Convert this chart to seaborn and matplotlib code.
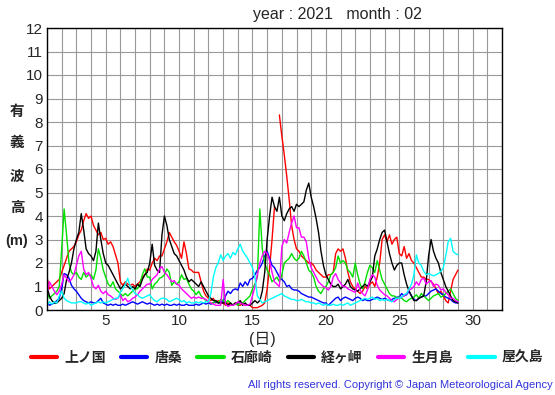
import numpy as np
import pandas as pd
import matplotlib
matplotlib.use("Agg")
import matplotlib.pyplot as plt
from matplotlib.lines import Line2D
import seaborn as sns

nan = np.nan
# significant wave height (m), Feb 2021, 4-hourly (6 values per day), day 1.00 .. 29.00
stations = ["上ノ国", "唐桑", "石廊崎", "経ヶ岬", "生月島", "屋久島"]
colors = ["#ff0000", "#0000ff", "#00e000", "#000000", "#ff00ff", "#00ffff"]

kaminokuni = [
    1.4, 0.9, 1.0, 1.1, 1.2, 1.3,
    1.6, 1.9, 2.2, 2.5, 2.6, 2.7,
    2.9, 3.2, 3.4, 3.8, 4.1, 3.9,
    4.0, 3.6, 3.4, 3.2, 3.3, 3.0,
    3.05, 2.8, 2.9, 2.7, 2.35, 2.0,
    1.2, 1.05, 1.2, 1.1, 1.05, 1.1,
    1.0, 1.1, 1.2, 1.4, 1.5, 1.75,
    1.7, 2.0, 2.2, 2.1, 2.3, 2.3,
    2.6, 2.9, 3.3, 3.1, 2.9, 2.75,
    2.5, 2.2, 2.9, 2.4, 1.75, 1.7,
    1.6, 1.6, 1.6, 1.2, 0.8, 0.6,
    0.5, 0.4, 0.5, 0.3, 0.4, 0.3,
    0.3, 0.2, 0.3, 0.2, 0.2, 0.3,
    0.2, 0.2, 0.3, 0.2, 0.2, 0.2,
    0.1, 0.1, 0.1, 0.15, 0.2, 0.3,
    0.9, 1.8, 3.0, 4.4, nan, 8.3,
    7.4, 6.6, 5.7, 4.7, 3.6, 3.0,
    2.6, 2.5, 2.3, 2.2, 2.1, 2.0,
    2.0, 1.9, 1.7, 1.6, 1.5, 1.4,
    1.4, 1.5, 1.5, 1.6, 2.4, 2.6,
    2.5, 2.6, 2.2, 1.6, 1.2, 1.0,
    0.9, 0.8, 0.7, 0.8, 1.0, 0.9,
    1.1, 1.2, 1.0, 1.4, 2.0, 3.0,
    3.2, 2.9, 3.2, 2.8, 3.0, 3.1,
    2.4, 2.3, 2.7, 2.2, 2.4, 2.1,
    2.0, 1.8, 1.6, 1.4, 1.4, 1.3,
    1.3, 1.2, 1.1, 0.9, 0.7, 0.8,
    0.6, 0.4, 0.3, 0.8, 1.3, 1.5,
    1.7,
]

karakuwa = [
    0.35, 0.2, 0.25, 0.3, 0.4, 0.5,
    0.9, 1.55, 1.5, 1.35, 1.05, 0.9,
    0.8, 0.65, 0.5, 0.4, 0.35, 0.3,
    0.35, 0.3, 0.3, 0.4, 0.5, 0.3,
    0.25, 0.2, 0.25, 0.2, 0.25, 0.2,
    0.2, 0.25, 0.2, 0.25, 0.3, 0.35,
    0.3, 0.25, 0.3, 0.35, 0.3, 0.25,
    0.3, 0.25, 0.2, 0.25, 0.2, 0.25,
    0.2, 0.25, 0.2, 0.2, 0.25, 0.2,
    0.25, 0.2, 0.2, 0.25, 0.2, 0.2,
    0.2, 0.25, 0.2, 0.25, 0.3, 0.25,
    0.3, 0.25, 0.3, 0.35, 0.3, 0.35,
    0.35, 0.6, 0.8, 0.7, 0.85, 0.9,
    0.85, 1.15, 1.0, 1.2, 1.05, 1.3,
    1.35, 1.5, 1.7, 1.8, 2.0, 2.3,
    2.5, 2.2, 1.9, 1.8, 1.6, 1.4,
    1.3, 1.2, 1.0, 1.05, 0.9, 0.85,
    0.85, 0.8, 0.7, 0.65, 0.6, 0.55,
    0.55, 0.5, 0.45, 0.4, 0.35, 0.3,
    0.3, 0.2, 0.3, 0.4, 0.5, 0.55,
    0.4, 0.5, 0.55, 0.5, 0.45, 0.4,
    0.5, 0.55, 0.5, 0.4, 0.45, 0.4,
    0.4, 0.45, 0.5, 0.55, 0.5, 0.45,
    0.5, 0.45, 0.4, 0.45, 0.5, 0.55,
    0.55, 0.7, 0.6, 0.65, 0.8, 0.6,
    0.45, 0.4, 0.5, 0.55, 0.6, 0.6,
    0.7, 0.8, 0.85, 0.9, 0.8, 0.7,
    0.65, 0.55, 0.5, 0.45, 0.35, 0.3,
    0.3,
]

irozaki = [
    0.8, 0.5, 0.6, 0.7, 0.8, 1.0,
    2.6, 4.3, 3.2, 2.0, 1.6, 1.5,
    1.6, 1.4, 1.3, 1.6, 1.4, 1.5,
    1.5, 1.3, 1.7, 2.6, 2.2, 1.7,
    1.4, 1.1, 1.0, 1.2, 0.9, 0.8,
    0.7, 0.6, 0.7, 0.6, 0.7, 0.8,
    0.9, 0.9, 1.1, 1.5, 1.75, 1.4,
    1.4, 0.9, 1.1, 1.2, 1.35, 1.4,
    1.5, 1.75, 1.6, 1.05, 1.2, 1.1,
    1.2, 1.5, 1.3, 1.35, 1.1, 0.9,
    0.8, 0.65, 0.8, 0.6, 0.5, 0.4,
    0.35, 0.3, 0.3, 0.4, 0.3, 0.45,
    0.4, 0.3, 0.4, 0.3, 0.2, 0.3,
    0.2, 0.3, 0.3, 0.4, 0.5, 0.6,
    0.9, 1.1, 1.4, 4.3, 2.6, 2.0,
    1.7, 1.5, 1.2, 1.3, 1.4, 1.2,
    1.5, 2.0, 2.1, 2.2, 2.4, 2.2,
    2.1, 2.2, 2.5, 2.3, 2.0, 1.7,
    1.6, 1.4, 1.0, 0.8, 0.7, 0.9,
    1.0, 1.2, 1.5, 1.6, 1.8, 2.3,
    2.0, 2.1, 2.0, 1.7, 1.6, 1.4,
    2.0, 1.5, 1.1, 0.9, 1.2, 1.6,
    1.9, 1.8, 1.6, 2.1, 1.7, 1.3,
    1.1, 0.9, 0.7, 0.6, 0.6, 0.5,
    0.55, 0.5, 0.4, 0.35, 0.45, 0.5,
    0.55, 0.65, 0.5, 0.7, 0.6, 0.5,
    0.4, 0.5, 0.6, 0.65, 0.7, 0.55,
    0.6, 0.7, 0.8, 0.9, 0.7, 0.5,
    0.4,
]

kyogamisaki = [
    1.0, 0.6, 0.4, 0.3, 0.3, 0.4,
    0.5, 0.7, 1.3, 1.6, 2.0, 2.6,
    3.0, 3.3, 4.1, 3.4, 2.6, 2.4,
    2.3, 2.1, 2.5, 3.7, 3.0, 2.4,
    2.0, 1.9, 1.7, 1.5, 1.3, 1.1,
    0.9, 1.0, 1.1, 1.0, 0.9, 1.0,
    0.9, 1.1, 1.0, 1.3, 1.5, 1.6,
    2.0, 2.8, 1.9, 1.7, 1.6, 3.2,
    4.0, 3.6, 3.0, 2.7, 2.4, 2.3,
    2.1, 1.9, 1.7, 1.4, 1.2, 1.3,
    1.2, 1.1, 1.0, 1.2, 1.0, 0.8,
    0.6, 0.5, 0.4, 0.4, 0.3, 0.3,
    0.3, 0.3, 0.2, 0.3, 0.2, 0.3,
    0.3, 0.4, 0.2, 0.3, 0.2, 0.2,
    0.3, 0.4, 0.3, 0.4, 0.8, 1.6,
    3.0, 4.0, 4.8, 4.4, 4.2, 4.8,
    4.0, 3.8, 4.1, 4.3, 4.4, 4.2,
    4.5, 4.4, 4.5, 4.6, 5.1, 5.4,
    4.8, 4.4, 3.9, 3.3, 2.5, 1.9,
    1.5, 1.3, 1.1, 1.0, 1.0, 1.1,
    0.9, 1.0, 1.1, 1.3, 1.0, 0.9,
    0.85, 0.8, 0.9, 1.0, 1.1, 1.0,
    1.2, 1.4, 2.3, 2.6, 3.0, 3.3,
    3.4, 2.9, 2.4, 2.0, 1.7, 1.9,
    2.0, 2.0, 1.5, 1.1, 0.8, 0.6,
    0.4, 0.4, 0.5, 0.55, 0.6, 1.2,
    2.3, 3.0, 2.5, 2.2, 2.0, 1.6,
    1.3, 1.0, 0.8, 0.6, 0.4, 0.35,
    0.3,
]

ikitsukishima = [
    0.7, 1.2, 1.0, 0.8, 0.65, 0.8,
    1.1, 1.5, 1.35, 1.2, 1.3, 1.5,
    1.9, 2.3, 2.5, 1.75, 1.5, 1.6,
    1.35, 1.0, 0.9, 1.05, 0.8, 0.7,
    0.8, 0.65, 0.6, 0.5, 0.45, 0.5,
    0.65, 0.4, 0.5, 0.35, 0.4, 0.5,
    0.55, 0.65, 0.8, 0.9, 1.0, 1.1,
    1.1, 1.3, 1.4, 1.5, 1.75, 1.85,
    1.6, 1.5, 1.35, 1.2, 1.25, 1.1,
    1.05, 0.9, 0.8, 0.7, 0.6, 0.5,
    0.55, 0.5, 0.55, 0.5, 0.5, 0.45,
    0.35, 0.3, 0.25, 0.2, 0.2, 0.2,
    1.3, 0.25, 0.15, 0.2, 0.2, 0.25,
    0.35, 0.3, 0.25, 0.2, 0.2, 0.25,
    0.6, 1.0, 1.5, 2.0, 2.3, 2.5,
    2.4, 2.1, 1.6, 1.2, 1.1, 1.0,
    2.7, 3.0, 2.85, 3.3, 3.7, 4.0,
    3.5, 3.5, 3.1, 3.1, 2.9, 2.2,
    1.8, 1.6, 1.4, 1.2, 1.1, 1.0,
    0.95, 0.85, 1.0, 1.4, 1.55, 1.3,
    1.15, 1.0, 1.0, 0.9, 0.85, 0.8,
    0.75, 1.15, 0.85, 0.7, 0.6, 0.85,
    1.3, 1.5, 1.4, 1.05, 0.85, 0.75,
    0.65, 0.6, 0.5, 0.4, 0.35, 0.45,
    0.5, 0.55, 0.6, 0.7, 0.85, 0.9,
    1.0, 1.2, 1.05, 1.3, 1.35, 1.1,
    1.2, 1.25, 1.0, 1.1, 1.05, 0.85,
    0.9, 0.75, 0.65, 0.5, 0.5, 0.4,
    0.35,
]

yakushima = [
    0.2, 0.35, 0.25, 0.35, 0.3, 0.6,
    0.8, 0.5, 0.4, 0.35, 0.3, 0.3,
    0.3, 0.35, 0.35, 0.3, 0.25, 0.3,
    0.2, 0.25, 0.3, 0.35, 0.3, 0.35,
    0.3, 0.35, 0.4, 0.45, 0.5, 0.5,
    0.75, 0.9, 1.1, 1.35, 1.0, 0.85,
    0.7, 0.65, 0.55, 0.5, 0.55, 0.6,
    0.65, 0.5, 0.4, 0.35, 0.45, 0.5,
    0.5, 0.45, 0.35, 0.4, 0.45, 0.5,
    0.45, 0.35, 0.4, 0.3, 0.35, 0.3,
    0.3, 0.35, 0.3, 0.35, 0.3, 0.35,
    0.35, 0.7, 1.4, 1.8, 2.0, 2.35,
    2.1, 2.3, 2.4, 2.2, 2.45, 2.35,
    2.6, 2.8, 2.5, 2.35, 2.2, 2.0,
    1.8, 1.4, 0.6, 0.45, 0.3, 0.35,
    0.4, 0.45, 0.5, 0.55, 0.6, 0.65,
    0.7, 0.6, 0.55, 0.5, 0.45, 0.45,
    0.4, 0.4, 0.45, 0.4, 0.35, 0.35,
    0.3, 0.3, 0.25, 0.3, 0.25, 0.2,
    0.25, 0.2, 0.2, 0.25, 0.2, 0.2,
    0.25, 0.2, 0.25, 0.3, 0.2, 0.25,
    0.3, 0.35, 0.4, 0.45, 0.5, 0.45,
    0.5, 0.55, 0.45, 0.5, 0.4, 0.45,
    0.4, 0.45, 0.4, 0.35, 0.45, 0.5,
    0.5, 0.55, 0.65, 0.7, 0.9, 1.1,
    1.5, 2.35, 2.0, 1.9, 1.65, 1.5,
    1.55, 1.5, 1.45, 1.5, 1.55, 1.65,
    1.8, 2.3, 2.9, 3.05, 2.5, 2.4,
    2.35,
]

series = [kaminokuni, karakuwa, irozaki, kyogamisaki, ikitsukishima, yakushima]
day_ticks = [5, 10, 15, 20, 25, 30]
y_ticks = list(range(0, 13))

days = 1 + np.arange(len(kaminokuni)) / 6.0

sns.set_style("white")
plt.rcParams["font.family"] = ["Liberation Sans", "Noto Sans CJK JP", "DejaVu Sans"]

fig = plt.figure(figsize=(5.55, 3.95), dpi=100)
ax = fig.add_axes([47 / 555, 85 / 395, 455 / 555, 282 / 395])

palette = dict(zip(stations, colors))
for name, vals in zip(stations, series):
    v = np.asarray(vals, dtype=float)
    df = pd.DataFrame({"day": days, "h": v, "seg": np.cumsum(np.isnan(v))})
    df = df.dropna()
    sns.lineplot(data=df, x="day", y="h", units="seg", color=palette[name], lw=1.0,
                 estimator=None, sort=False, ax=ax, legend=False)

ax.set_xlim(1, 32)
ax.set_ylim(0, 12)
ax.set_xticks(np.arange(1, 33))
ax.set_xticklabels([str(d) if d in day_ticks else "" for d in range(1, 33)])
ax.set_yticks(y_ticks)
ax.set_yticklabels([str(v) for v in y_ticks])
ax.grid(True, color="#999999", lw=0.8)
ax.set_axisbelow(True)
ax.tick_params(length=0, labelsize=11, pad=3)
ax.set_xlabel("")
ax.set_ylabel("")
for s in ax.spines.values():
    s.set_color("black")
    s.set_linewidth(1.0)

fig.text(337 / 555, 1 - 14 / 395, "year : 2021   month : 02", ha="center", va="center", fontsize=11.5)

for label, yy in zip(["有", "義", "波", "高", "(m)"], [112, 143, 177, 208, 241]):
    fig.text(17 / 555, 1 - yy / 395, label, ha="center", va="center",
             fontsize=10.5, fontweight="bold")

fig.text(262 / 555, 1 - 339 / 395, "(日)", ha="center", va="center", fontsize=11.5)

handles = [Line2D([0], [0], color=c, lw=3) for c in colors]
fig.legend(handles, stations, loc="center", ncol=6, frameon=False,
           bbox_to_anchor=(287 / 555, 1 - 358 / 395),
           handlelength=1.9, handletextpad=0.5, columnspacing=1.1,
           prop={"weight": "bold", "size": 10})

fig.text(553 / 555, 1 - 385 / 395,
         "All rights reserved. Copyright © Japan Meteorological Agency",
         ha="right", va="center", fontsize=8, color="#3333dd")

fig.savefig("out.png", dpi=100)
